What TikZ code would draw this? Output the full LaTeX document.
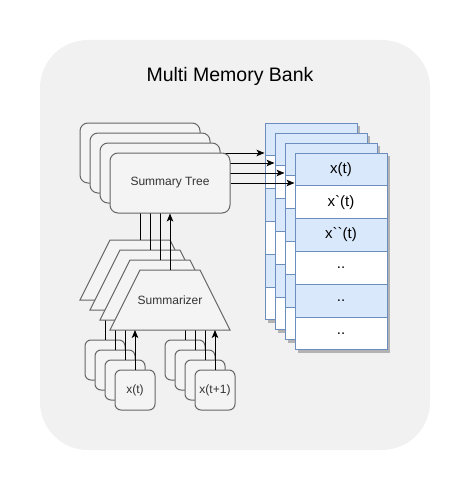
\documentclass[tikz,border=0pt]{standalone}
\usepackage{fontspec}
\setmainfont{Liberation Sans}[Ligatures=TeXOff]
\usetikzlibrary{arrows.meta,calc}
\definecolor{bgc}{HTML}{F1F1F1}
\definecolor{shapefill}{HTML}{F4F4F4}
\definecolor{shapestroke}{HTML}{666666}
\definecolor{txt}{HTML}{333333}
\definecolor{blufill}{HTML}{DAE8FC}
\definecolor{blustroke}{HTML}{6C8EBF}
\definecolor{shadowc}{HTML}{B3B3B3}
\begin{document}
\begin{tikzpicture}[x=1pt,y=-1pt,line width=1pt,
  bgbox/.style={fill=bgc,draw=none,rounded corners=48pt,minimum width=390pt,minimum height=410pt,inner sep=0pt},
  treebox/.style={draw=shapestroke,fill=shapefill,rounded corners=8pt,minimum width=120pt,minimum height=60pt,inner sep=0pt,font=\fontsize{12}{14}\selectfont,text=txt},
  summshape/.style={draw=shapestroke,fill=shapefill,line join=miter},
  summtext/.style={inner sep=0pt,font=\fontsize{12}{14}\selectfont,text=txt},
  inbox/.style={draw=shapestroke,fill=shapefill,rounded corners=6pt,minimum width=40pt,minimum height=40pt,inner sep=0pt,font=\fontsize{12}{14}\selectfont,text=txt},
  rowb/.style={draw=blustroke,fill=blufill,minimum width=92pt,minimum height=32.8pt,inner sep=0pt,font=\fontsize{15}{18}\selectfont,text=black},
  roww/.style={rowb,fill=white},
  arr/.style={draw=black,-{Stealth[length=8pt,width=6.5pt,inset=2pt]}}]
\useasboundingbox (0,0) rectangle (471,492);
\node[bgbox] (bg) at (235,245) {};
\node[font=\fontsize{19.5}{23}\selectfont,text=black] (title) at (230,76) {Multi Memory Bank};
\foreach \i in {0,1,2,3}{
  \pgfmathsetmacro\o{10*\i}
  \ifnum\i=3
    \def\tl{Summary Tree}\def\sl{Summarizer}\def\al{x(t)}\def\bl{x(t+1)}
    \def\ra{x(t)}\def\rb{x`(t)}\def\rc{x``(t)}\def\rd{..}
  \else
    \def\tl{}\def\sl{}\def\al{}\def\bl{}
    \def\ra{}\def\rb{}\def\rc{}\def\rd{}
  \fi
  % summarizer (trapezoid)
  \coordinate (z\i top) at (140+\o,240+\o);
  \coordinate (z\i bot) at (140+\o,300+\o);
  \filldraw[summshape] (110+\o,240+\o) -- (170+\o,240+\o) -- (200+\o,300+\o) -- (80+\o,300+\o) -- cycle;
  \node[summtext] (z\i) at (140+\o,270+\o) {\sl};
  % summary tree
  \node[treebox] (t\i) at (140+\o,153+\o) {\tl};
  % memory table with shadow
  \fill[shadowc] (268+\o,126+\o) rectangle (360+\o,322.8+\o);
  \node[rowb] (m\i r1) at (311+\o,139.4+\o) {\ra};
  \node[roww] (m\i r2) at (311+\o,172.2+\o) {\rb};
  \node[rowb] (m\i r3) at (311+\o,205.0+\o) {\rc};
  \node[roww] (m\i r4) at (311+\o,237.8+\o) {\rd};
  \node[rowb] (m\i r5) at (311+\o,270.6+\o) {\rd};
  \node[roww] (m\i r6) at (311+\o,303.4+\o) {\rd};
  % inputs
  \node[inbox] (a\i) at (105+\o,360+\o) {\al};
  \node[inbox] (b\i) at (185+\o,360+\o) {\bl};
  % connectors
  \draw[arr] (t\i.east) -- (t\i.east -| m\i r1.west);
  \draw[arr] (z\i top) -- (t\i.south);
  \draw[arr] (a\i.north) -- (a\i.north |- z\i bot);
  \draw[arr] (b\i.north) -- (b\i.north |- z\i bot);
}
\end{tikzpicture}
\end{document}
